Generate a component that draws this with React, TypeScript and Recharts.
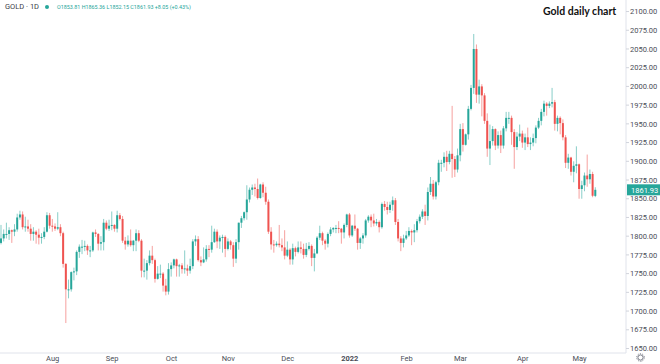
import React from 'react';
import { ComposedChart, Bar, XAxis, YAxis, ReferenceLine } from 'recharts';

// [date, open, high, low, close]
type Row = [string, number, number, number, number];

const jul21: Row[] = [
  ['2021-07-06', 1791, 1815, 1789, 1797], ['2021-07-07', 1797, 1809, 1793, 1803],
  ['2021-07-08', 1803, 1818, 1797, 1803], ['2021-07-09', 1803, 1812, 1795, 1808],
  ['2021-07-12', 1808, 1809, 1791, 1806], ['2021-07-13', 1806, 1816, 1800, 1809],
  ['2021-07-14', 1809, 1830, 1806, 1825], ['2021-07-15', 1825, 1834, 1822, 1829],
  ['2021-07-16', 1829, 1833, 1809, 1812], ['2021-07-19', 1812, 1826, 1806, 1813],
  ['2021-07-20', 1813, 1822, 1806, 1810], ['2021-07-21', 1810, 1816, 1794, 1803],
  ['2021-07-22', 1803, 1812, 1794, 1806], ['2021-07-23', 1806, 1808, 1790, 1802],
  ['2021-07-26', 1802, 1810, 1789, 1798], ['2021-07-27', 1798, 1804, 1790, 1799],
  ['2021-07-28', 1799, 1812, 1796, 1806], ['2021-07-29', 1806, 1832, 1805, 1828],
  ['2021-07-30', 1828, 1831, 1810, 1814],
];

const aug21: Row[] = [
  ['2021-08-02', 1814, 1823, 1806, 1813], ['2021-08-03', 1813, 1817, 1807, 1810],
  ['2021-08-04', 1810, 1832, 1808, 1812], ['2021-08-05', 1812, 1816, 1800, 1804],
  ['2021-08-06', 1804, 1806, 1758, 1763], ['2021-08-09', 1763, 1764, 1684, 1729],
  ['2021-08-10', 1729, 1742, 1717, 1729], ['2021-08-11', 1729, 1753, 1726, 1752],
  ['2021-08-12', 1752, 1758, 1741, 1753], ['2021-08-13', 1753, 1781, 1748, 1779],
  ['2021-08-16', 1779, 1789, 1771, 1786], ['2021-08-17', 1786, 1795, 1776, 1786],
  ['2021-08-18', 1786, 1794, 1780, 1787], ['2021-08-19', 1787, 1789, 1775, 1781],
  ['2021-08-20', 1781, 1787, 1772, 1781], ['2021-08-23', 1781, 1806, 1779, 1805],
  ['2021-08-24', 1805, 1809, 1799, 1803], ['2021-08-25', 1803, 1804, 1781, 1790],
  ['2021-08-26', 1790, 1800, 1781, 1792], ['2021-08-27', 1792, 1823, 1781, 1818],
  ['2021-08-30', 1818, 1821, 1808, 1810], ['2021-08-31', 1810, 1822, 1807, 1814],
];

const sep21: Row[] = [
  ['2021-09-01', 1814, 1833, 1808, 1815], ['2021-09-02', 1815, 1816, 1806, 1810],
  ['2021-09-03', 1810, 1834, 1805, 1828], ['2021-09-06', 1828, 1831, 1821, 1823],
  ['2021-09-07', 1823, 1827, 1791, 1794], ['2021-09-08', 1794, 1799, 1782, 1789],
  ['2021-09-09', 1789, 1801, 1786, 1794], ['2021-09-10', 1794, 1809, 1786, 1788],
  ['2021-09-13', 1788, 1795, 1780, 1794], ['2021-09-14', 1794, 1809, 1780, 1804],
  ['2021-09-15', 1804, 1808, 1792, 1794], ['2021-09-16', 1794, 1796, 1745, 1754],
  ['2021-09-17', 1754, 1770, 1745, 1754], ['2021-09-20', 1754, 1768, 1742, 1764],
  ['2021-09-21', 1764, 1781, 1761, 1774], ['2021-09-22', 1774, 1787, 1763, 1768],
  ['2021-09-23', 1768, 1770, 1738, 1743], ['2021-09-24', 1743, 1760, 1742, 1750],
  ['2021-09-27', 1750, 1762, 1744, 1750], ['2021-09-28', 1750, 1752, 1726, 1734],
  ['2021-09-29', 1734, 1743, 1721, 1726], ['2021-09-30', 1726, 1764, 1722, 1756],
];

const oct21: Row[] = [
  ['2021-10-01', 1756, 1765, 1746, 1761], ['2021-10-04', 1761, 1770, 1757, 1769],
  ['2021-10-05', 1769, 1770, 1746, 1760], ['2021-10-06', 1760, 1763, 1746, 1761],
  ['2021-10-07', 1761, 1764, 1750, 1756], ['2021-10-08', 1756, 1781, 1750, 1757],
  ['2021-10-11', 1757, 1762, 1747, 1754], ['2021-10-12', 1754, 1770, 1750, 1760],
  ['2021-10-13', 1760, 1796, 1756, 1793], ['2021-10-14', 1793, 1801, 1787, 1796],
  ['2021-10-15', 1796, 1800, 1766, 1768], ['2021-10-18', 1768, 1773, 1760, 1765],
  ['2021-10-19', 1765, 1785, 1764, 1769], ['2021-10-20', 1769, 1788, 1766, 1783],
  ['2021-10-21', 1783, 1788, 1772, 1782], ['2021-10-22', 1782, 1814, 1778, 1792],
  ['2021-10-25', 1792, 1810, 1791, 1806], ['2021-10-26', 1806, 1809, 1784, 1793],
  ['2021-10-27', 1793, 1801, 1783, 1798], ['2021-10-28', 1798, 1802, 1778, 1799],
  ['2021-10-29', 1799, 1801, 1772, 1783],
];

const nov21: Row[] = [
  ['2021-11-01', 1783, 1797, 1781, 1793], ['2021-11-02', 1793, 1795, 1782, 1788],
  ['2021-11-03', 1788, 1792, 1759, 1770], ['2021-11-04', 1770, 1796, 1764, 1792],
  ['2021-11-05', 1792, 1818, 1782, 1818], ['2021-11-08', 1818, 1827, 1811, 1824],
  ['2021-11-09', 1824, 1833, 1821, 1832], ['2021-11-10', 1832, 1868, 1822, 1849],
  ['2021-11-11', 1849, 1865, 1845, 1862], ['2021-11-12', 1862, 1869, 1855, 1865],
  ['2021-11-15', 1865, 1870, 1853, 1863], ['2021-11-16', 1863, 1877, 1849, 1851],
  ['2021-11-17', 1851, 1870, 1850, 1869], ['2021-11-18', 1869, 1872, 1852, 1858],
  ['2021-11-19', 1858, 1866, 1842, 1846], ['2021-11-22', 1846, 1849, 1803, 1806],
  ['2021-11-23', 1806, 1812, 1782, 1789], ['2021-11-24', 1789, 1795, 1778, 1788],
  ['2021-11-25', 1788, 1793, 1786, 1790], ['2021-11-26', 1790, 1815, 1785, 1788],
  ['2021-11-29', 1788, 1797, 1780, 1785], ['2021-11-30', 1785, 1808, 1769, 1774],
];

const dec21: Row[] = [
  ['2021-12-01', 1774, 1793, 1772, 1782], ['2021-12-02', 1782, 1784, 1762, 1769],
  ['2021-12-03', 1769, 1790, 1762, 1784], ['2021-12-06', 1784, 1786, 1773, 1779],
  ['2021-12-07', 1779, 1793, 1777, 1785], ['2021-12-08', 1785, 1793, 1777, 1783],
  ['2021-12-09', 1783, 1790, 1770, 1775], ['2021-12-10', 1775, 1791, 1772, 1783],
  ['2021-12-13', 1783, 1792, 1781, 1787], ['2021-12-14', 1787, 1789, 1760, 1771],
  ['2021-12-15', 1771, 1783, 1753, 1777], ['2021-12-16', 1777, 1800, 1776, 1798],
  ['2021-12-17', 1798, 1814, 1795, 1804], ['2021-12-20', 1804, 1806, 1788, 1794],
  ['2021-12-21', 1794, 1796, 1782, 1790], ['2021-12-22', 1790, 1805, 1785, 1803],
  ['2021-12-23', 1803, 1812, 1800, 1809], ['2021-12-24', 1809, 1812, 1805, 1811],
  ['2021-12-27', 1811, 1815, 1804, 1811], ['2021-12-28', 1811, 1820, 1804, 1810],
  ['2021-12-29', 1810, 1811, 1790, 1805], ['2021-12-30', 1805, 1817, 1797, 1815],
  ['2021-12-31', 1815, 1830, 1812, 1829],
];

const jan22: Row[] = [
  ['2022-01-03', 1829, 1831, 1798, 1801], ['2022-01-04', 1801, 1815, 1799, 1814],
  ['2022-01-05', 1814, 1829, 1807, 1810], ['2022-01-06', 1810, 1811, 1782, 1791],
  ['2022-01-07', 1791, 1799, 1783, 1797], ['2022-01-10', 1797, 1804, 1790, 1801],
  ['2022-01-11', 1801, 1823, 1798, 1821], ['2022-01-12', 1821, 1828, 1818, 1826],
  ['2022-01-13', 1826, 1829, 1812, 1821], ['2022-01-14', 1821, 1830, 1813, 1817],
  ['2022-01-17', 1817, 1823, 1814, 1819], ['2022-01-18', 1819, 1821, 1805, 1812],
  ['2022-01-19', 1812, 1845, 1810, 1843], ['2022-01-20', 1843, 1847, 1834, 1839],
  ['2022-01-21', 1839, 1846, 1829, 1835], ['2022-01-24', 1835, 1846, 1831, 1842],
  ['2022-01-25', 1842, 1853, 1834, 1848], ['2022-01-26', 1848, 1851, 1815, 1819],
  ['2022-01-27', 1819, 1823, 1793, 1797], ['2022-01-28', 1797, 1800, 1780, 1791],
  ['2022-01-31', 1791, 1802, 1785, 1797],
];

const feb22: Row[] = [
  ['2022-02-01', 1797, 1807, 1795, 1801], ['2022-02-02', 1801, 1812, 1799, 1807],
  ['2022-02-03', 1807, 1809, 1788, 1805], ['2022-02-04', 1805, 1816, 1792, 1808],
  ['2022-02-07', 1808, 1823, 1805, 1820], ['2022-02-08', 1820, 1829, 1817, 1826],
  ['2022-02-09', 1826, 1836, 1823, 1833], ['2022-02-10', 1833, 1842, 1815, 1827],
  ['2022-02-11', 1827, 1865, 1821, 1859], ['2022-02-14', 1859, 1879, 1855, 1870],
  ['2022-02-15', 1870, 1875, 1849, 1853], ['2022-02-16', 1853, 1874, 1849, 1872],
  ['2022-02-17', 1872, 1902, 1868, 1898], ['2022-02-18', 1898, 1902, 1886, 1898],
  ['2022-02-21', 1898, 1912, 1892, 1906], ['2022-02-22', 1906, 1914, 1887, 1899],
  ['2022-02-23', 1899, 1914, 1896, 1910], ['2022-02-24', 1910, 1974, 1878, 1903],
  ['2022-02-25', 1903, 1907, 1879, 1889], ['2022-02-28', 1889, 1917, 1885, 1908],
];

const mar22: Row[] = [
  ['2022-03-01', 1908, 1950, 1900, 1943], ['2022-03-02', 1943, 1951, 1913, 1922],
  ['2022-03-03', 1922, 1937, 1921, 1936], ['2022-03-04', 1936, 1974, 1929, 1970],
  ['2022-03-07', 1970, 2002, 1968, 1998], ['2022-03-08', 1998, 2070, 1990, 2050],
  ['2022-03-09', 2050, 2056, 1978, 1989], ['2022-03-10', 1989, 2009, 1977, 2000],
  ['2022-03-11', 2000, 2003, 1960, 1988], ['2022-03-14', 1988, 1991, 1950, 1954],
  ['2022-03-15', 1954, 1964, 1906, 1917], ['2022-03-16', 1917, 1949, 1895, 1927],
  ['2022-03-17', 1927, 1947, 1921, 1943], ['2022-03-18', 1943, 1944, 1915, 1921],
  ['2022-03-21', 1921, 1940, 1917, 1935], ['2022-03-22', 1935, 1941, 1911, 1921],
  ['2022-03-23', 1921, 1947, 1917, 1944], ['2022-03-24', 1944, 1966, 1940, 1958],
  ['2022-03-25', 1958, 1966, 1950, 1958], ['2022-03-28', 1958, 1961, 1922, 1939],
  ['2022-03-29', 1939, 1943, 1890, 1919], ['2022-03-30', 1919, 1939, 1915, 1933],
  ['2022-03-31', 1933, 1949, 1927, 1937],
];

const apr22: Row[] = [
  ['2022-04-01', 1937, 1941, 1918, 1925], ['2022-04-04', 1925, 1937, 1915, 1932],
  ['2022-04-05', 1932, 1945, 1919, 1923], ['2022-04-06', 1923, 1932, 1915, 1925],
  ['2022-04-07', 1925, 1937, 1920, 1931], ['2022-04-08', 1931, 1948, 1924, 1945],
  ['2022-04-11', 1945, 1958, 1943, 1954], ['2022-04-12', 1954, 1970, 1948, 1966],
  ['2022-04-13', 1966, 1981, 1960, 1977], ['2022-04-14', 1977, 1979, 1961, 1974],
  ['2022-04-15', 1974, 1980, 1971, 1977], ['2022-04-18', 1977, 1998, 1972, 1979],
  ['2022-04-19', 1979, 1982, 1941, 1950], ['2022-04-20', 1950, 1961, 1940, 1958],
  ['2022-04-21', 1958, 1960, 1936, 1951], ['2022-04-22', 1951, 1956, 1928, 1932],
  ['2022-04-25', 1932, 1935, 1891, 1898], ['2022-04-26', 1898, 1910, 1890, 1905],
  ['2022-04-27', 1905, 1906, 1881, 1886], ['2022-04-28', 1886, 1900, 1872, 1894],
  ['2022-04-29', 1894, 1920, 1884, 1896],
];

const may22: Row[] = [
  ['2022-05-02', 1896, 1897, 1850, 1863], ['2022-05-03', 1863, 1874, 1850, 1868],
  ['2022-05-04', 1868, 1885, 1860, 1881], ['2022-05-05', 1881, 1909, 1866, 1876],
  ['2022-05-06', 1876, 1889, 1870, 1883], ['2022-05-09', 1883, 1886, 1852, 1854],
  ['2022-05-10', 1853.81, 1865.36, 1852.15, 1861.93],
];

const priceTicks = [
  1650, 1675, 1700, 1725, 1750, 1775, 1800, 1825, 1850, 1875,
  1900, 1925, 1950, 1975, 2000, 2025, 2050, 2075, 2100,
];

const monthStarts = [
  '2021-08-02', '2021-09-01', '2021-10-01', '2021-11-01', '2021-12-01',
  '2022-01-03', '2022-02-01', '2022-03-01', '2022-04-01', '2022-05-02',
];
const monthNames = ['Aug', 'Sep', 'Oct', 'Nov', 'Dec', '2022', 'Feb', 'Mar', 'Apr', 'May'];

const UP = '#26a69a';
const DOWN = '#ef5350';
const FONT = 'Roboto, "Noto Sans", sans-serif';

const candles = [
  ...jul21, ...aug21, ...sep21, ...oct21, ...nov21, ...dec21,
  ...jan22, ...feb22, ...mar22, ...apr22, ...may22,
].map(([date, open, high, low, close]) => ({
  date, open, high, low, close, range: [low, high],
}));

const last = candles[candles.length - 1];

const Candle = (props: any) => {
  const { x, y, width, height, payload } = props;
  if (!payload) return null;
  const { open, high, low, close } = payload;
  const top = Math.min(y, y + height);
  const h = Math.abs(height);
  const k = h / (high - low || 1);
  const yo = top + (high - open) * k;
  const yc = top + (high - close) * k;
  const color = close >= open ? UP : DOWN;
  const cx = x + width / 2;
  return (
    <g>
      <line x1={cx} x2={cx} y1={top} y2={top + h} stroke={color} strokeOpacity={0.55} strokeWidth={1} />
      <rect x={x} y={Math.min(yo, yc)} width={width} height={Math.max(Math.abs(yo - yc), 1)} fill={color} />
    </g>
  );
};

const MonthTick = (props: any) => {
  const { x, y, payload } = props;
  const i = monthStarts.indexOf(payload.value);
  if (i < 0) return null;
  const name = monthNames[i];
  return (
    <text x={x} y={y} dy={8} textAnchor="middle" fontSize={7.5} fill="#4a4d57"
      fontFamily={FONT} fontWeight={name === '2022' ? 700 : 400}>
      {name}
    </text>
  );
};

const PriceTag = (props: any) => {
  const { viewBox } = props;
  const x0 = viewBox.x + viewBox.width;
  const yc = viewBox.y;
  return (
    <g>
      <rect x={x0 + 1} y={yc - 5.5} width={33} height={11} fill={UP} />
      <text x={x0 + 5} y={yc} dy={2.7} fontSize={7.5} fill="#fff" fontFamily={FONT}>
        {last.close.toFixed(2)}
      </text>
    </g>
  );
};

export default function App() {
  return (
    <div style={{ position: 'absolute', left: 0, top: 0, width: 660, height: 364, background: '#fff', fontFamily: FONT }}>
      <ComposedChart width={660} height={364} data={candles} margin={{ top: 0, right: 0, bottom: 0, left: 0 }}>
        <XAxis
          dataKey="date"
          interval={0}
          tick={<MonthTick />}
          tickLine={false}
          tickSize={0}
          tickMargin={0}
          axisLine={{ stroke: '#e0e3eb' }}
          height={11}
          padding={{ left: 0, right: 29 }}
        />
        <YAxis
          orientation="right"
          type="number"
          width={34}
          domain={[1644, 2115.4]}
          allowDataOverflow
          ticks={priceTicks}
          interval={0}
          tickFormatter={(v: number) => v.toFixed(2)}
          tick={{ fontSize: 7.5, fill: '#4a4d57', fontFamily: FONT }}
          tickSize={3}
          tickMargin={1}
          tickLine={{ stroke: '#d1d4dc' }}
          axisLine={{ stroke: '#e0e3eb' }}
        />
        <Bar dataKey="range" shape={<Candle />} barSize={2} isAnimationActive={false} />
        <ReferenceLine y={last.close} stroke={UP} strokeOpacity={0} label={<PriceTag />} />
      </ComposedChart>
      <div style={{ position: 'absolute', left: 5, top: 2, fontSize: 7.5, color: '#3a3d47', whiteSpace: 'nowrap' }}>
        GOLD · 1D
      </div>
      <div style={{ position: 'absolute', left: 45, top: 4.5, width: 4, height: 4, borderRadius: 2, background: UP }} />
      <div style={{ position: 'absolute', left: 57, top: 3.5, fontSize: 5.4, color: UP, whiteSpace: 'nowrap' }}>
        O{last.open.toFixed(2)} H{last.high.toFixed(2)} L{last.low.toFixed(2)} C{last.close.toFixed(2)} +8.05 (+0.43%)
      </div>
      <div style={{ position: 'absolute', left: 543, top: 5, fontSize: 10.5, fontWeight: 700, color: '#111', fontFamily: 'Lato, sans-serif', whiteSpace: 'nowrap' }}>
        Gold daily chart
      </div>
      <svg style={{ position: 'absolute', left: 636, top: 353 }} width={9} height={9}>
        <circle cx={4.5} cy={4.5} r={2.6} fill="none" stroke="#787b86" strokeWidth={1} />
        <circle cx={4.5} cy={4.5} r={3.8} fill="none" stroke="#787b86" strokeWidth={1} strokeDasharray="1.2 1.2" />
      </svg>
    </div>
  );
}
